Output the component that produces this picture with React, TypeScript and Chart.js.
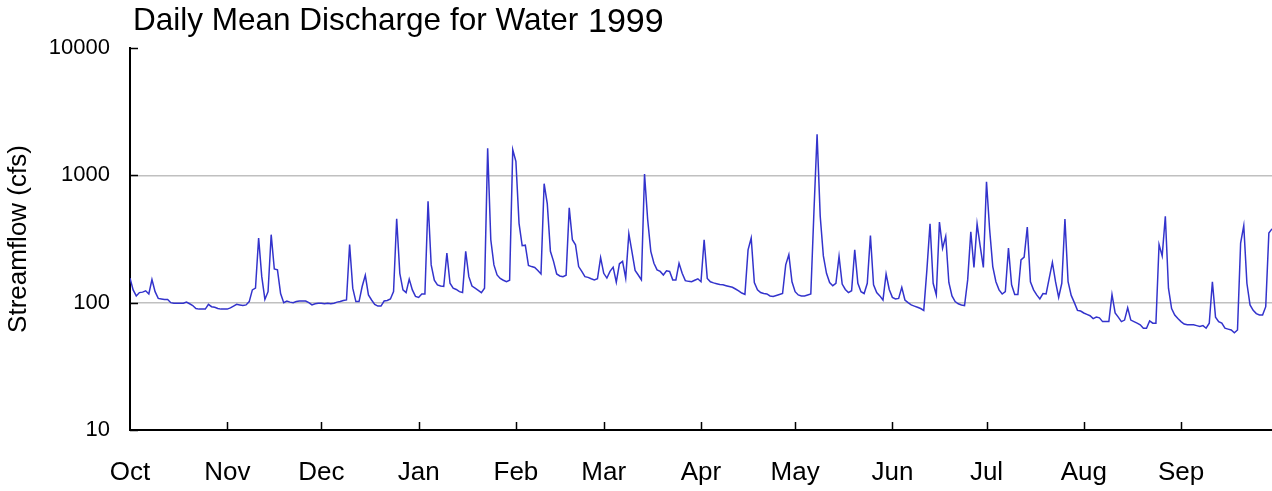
import React, { useEffect, useRef } from "react";
import { Chart, registerables } from "chart.js";

Chart.register(...registerables);

// Daily mean discharge (cfs), water year 1999 (Oct 1998 - Sep 1999)
const oct = [156, 126, 113, 120, 121, 124, 117, 152, 122, 108, 107, 106, 106, 100, 99, 99, 99, 99, 101, 98, 95, 90, 89, 89, 89, 97, 93, 92, 90, 89, 89];
const nov = [89, 91, 94, 97, 96, 95, 96, 102, 126, 130, 322, 160, 106, 122, 342, 184, 181, 118, 100, 103, 101, 100, 102, 103, 103, 103, 100, 96, 98, 99];
const dec = [99, 98, 99, 98, 99, 101, 102, 104, 105, 286, 130, 102, 102, 134, 164, 115, 105, 97, 94, 94, 103, 104, 107, 122, 456, 170, 126, 120, 153, 126, 112];
const jan = [110, 117, 117, 626, 198, 150, 138, 135, 134, 245, 142, 130, 127, 122, 120, 253, 160, 135, 130, 125, 120, 130, 1630, 312, 198, 165, 155, 150, 146, 150, 1590];
const feb = [1290, 420, 280, 283, 196, 192, 189, 179, 168, 860, 600, 253, 211, 168, 162, 160, 164, 555, 312, 285, 192, 176, 160, 158, 154, 151, 154, 226];
const mar = [170, 156, 176, 190, 145, 202, 211, 156, 348, 250, 179, 165, 151, 1025, 450, 253, 204, 181, 176, 165, 178, 176, 151, 151, 204, 170, 149, 147, 146, 150, 154];
const apr = [146, 312, 155, 146, 143, 141, 139, 138, 136, 134, 132, 128, 124, 119, 116, 260, 322, 144, 126, 120, 118, 117, 113, 112, 114, 116, 118, 198, 238, 146];
const may = [122, 115, 113, 113, 115, 117, 520, 2100, 477, 233, 170, 144, 136, 142, 231, 140, 127, 120, 124, 260, 142, 122, 118, 142, 336, 138, 120, 113, 105, 168, 127];
const jun = [110, 107, 108, 132, 105, 100, 96, 94, 92, 90, 87, 181, 416, 142, 115, 430, 268, 332, 144, 113, 102, 98, 96, 95, 151, 360, 189, 416, 277, 189];
const jul = [890, 375, 192, 146, 126, 117, 122, 268, 138, 116, 116, 217, 228, 393, 146, 126, 115, 107, 118, 117, 156, 207, 146, 110, 142, 454, 146, 114, 100, 87, 86];
const aug = [83, 81, 79, 75, 77, 76, 71, 71, 71, 116, 83, 77, 71, 73, 91, 73, 71, 69, 67, 63, 63, 72, 69, 69, 286, 233, 477, 130, 90, 80, 75];
const sep = [71, 68, 67, 67, 67, 66, 65, 66, 63, 69, 146, 77, 71, 69, 63, 62, 61, 58, 61, 294, 402, 142, 96, 87, 82, 80, 80, 93, 352, 380];

const monthNames = ["Oct", "Nov", "Dec", "Jan", "Feb", "Mar", "Apr", "May", "Jun", "Jul", "Aug", "Sep"];
const monthStartDays = [0, 31, 61, 92, 123, 151, 182, 212, 243, 273, 304, 335];
const yTicks = [10, 100, 1000, 10000];
const gridValues = [100, 1000];
const titleText = "Daily Mean Discharge for Water";
const titleYear = "1999";
const yAxisTitle = "Streamflow (cfs)";

const discharge = [...oct, ...nov, ...dec, ...jan, ...feb, ...mar, ...apr, ...may, ...jun, ...jul, ...aug, ...sep];

const FONT = "'Liberation Sans', Arial, sans-serif";

export default function App() {
  const ref = useRef<HTMLCanvasElement | null>(null);

  useEffect(() => {
    const canvas = ref.current;
    if (!canvas) return;

    const decor = {
      id: "decor",
      afterDraw(chart: any) {
        const ctx = chart.ctx;
        const area = chart.chartArea;
        const xs = chart.scales.x;
        const ys = chart.scales.y;
        ctx.save();
        ctx.strokeStyle = "#000";
        ctx.lineWidth = 1.5;
        ctx.beginPath();
        yTicks.forEach((v) => {
          const y = Math.round(ys.getPixelForValue(v)) + 0.5;
          ctx.moveTo(area.left, y);
          ctx.lineTo(area.left + 8, y);
        });
        monthStartDays.slice(1).forEach((d) => {
          const x = Math.round(xs.getPixelForValue(d)) + 0.5;
          ctx.moveTo(x, area.bottom);
          ctx.lineTo(x, area.bottom - 8);
        });
        ctx.stroke();
        // title
        ctx.fillStyle = "#000";
        ctx.textBaseline = "alphabetic";
        ctx.textAlign = "left";
        ctx.font = `31.5px ${FONT}`;
        ctx.fillText(titleText, 133, 30);
        const w = ctx.measureText(titleText + " ").width;
        ctx.font = `34px ${FONT}`;
        ctx.fillText(titleYear, 134 + w, 32);
        ctx.restore();
      },
    };

    const chart = new Chart(canvas, {
      type: "line",
      data: {
        datasets: [
          {
            data: discharge.map((v, i) => ({ x: i, y: v })),
            borderColor: "#3333cc",
            borderWidth: 1.5,
            pointRadius: 0,
            fill: false,
            tension: 0,
          },
        ],
      },
      options: {
        responsive: false,
        animation: false,
        devicePixelRatio: 1,
        layout: { padding: { top: 48, left: 0, right: 0, bottom: 0 } },
        plugins: { legend: { display: false }, tooltip: { enabled: false }, title: { display: false } },
        scales: {
          x: {
            type: "linear",
            min: 0,
            max: 364,
            afterBuildTicks: (scale: any) => {
              scale.ticks = monthStartDays.map((d) => ({ value: d }));
            },
            afterFit: (scale: any) => {
              scale.height = 61;
            },
            ticks: {
              autoSkip: false,
              maxRotation: 0,
              padding: 27,
              color: "#000",
              font: { family: FONT, size: 26 },
              callback: (value: any) => {
                const idx = monthStartDays.indexOf(Number(value));
                return idx >= 0 ? monthNames[idx] : "";
              },
            },
            grid: { display: false, drawTicks: false },
            border: { display: true, color: "#000", width: 2 },
          },
          y: {
            type: "logarithmic",
            min: 10,
            max: 10000,
            afterBuildTicks: (scale: any) => {
              scale.ticks = yTicks.map((v) => ({ value: v }));
            },
            afterFit: (scale: any) => {
              scale.width = 130;
            },
            ticks: {
              padding: 20,
              color: "#000",
              font: { family: FONT, size: 22 },
              callback: (value: any) => String(value),
            },
            grid: {
              drawTicks: false,
              lineWidth: 1.5,
              color: (c: any) => (c.tick && gridValues.includes(c.tick.value) ? "#c0c0c0" : "rgba(0,0,0,0)"),
            },
            border: { display: true, color: "#000", width: 2 },
            title: {
              display: true,
              text: yAxisTitle,
              color: "#000",
              font: { family: FONT, size: 26 },
              padding: { top: 3, bottom: 0 },
            },
          },
        },
      },
      plugins: [decor],
    });

    return () => chart.destroy();
  }, []);

  return (
    <div style={{ position: "absolute", left: 0, top: 0, width: 1272, height: 491 }}>
      <canvas ref={ref} width={1272} height={491} style={{ width: 1272, height: 491, display: "block" }} />
    </div>
  );
}
